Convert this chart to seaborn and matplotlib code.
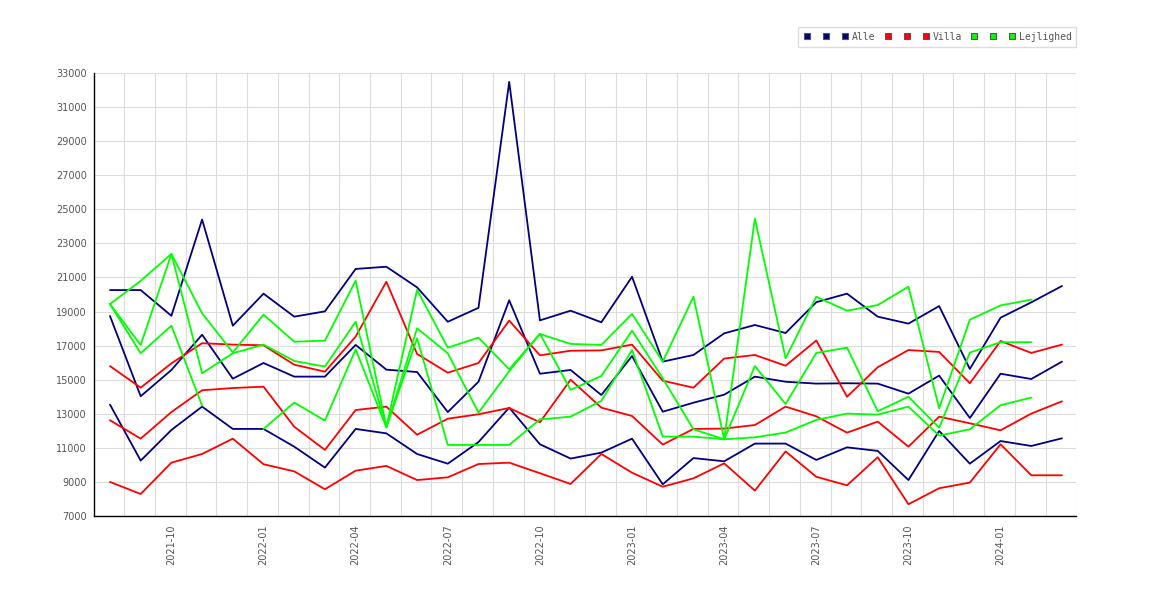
import seaborn as sns
import matplotlib.pyplot as plt
from matplotlib.lines import Line2D
import numpy as np
import pandas as pd

nan = np.nan

# months 2021-08 .. 2024-03
months = pd.date_range('2021-08-01', periods=32, freq='MS').strftime('%Y-%m').tolist()
tick_months = ['2021-10', '2022-01', '2022-04', '2022-07', '2022-10', '2023-01',
               '2023-04', '2023-07', '2023-10', '2024-01']

# Alle
alle_hi = [20260, 20260, 18750, 24400, 18170, 20050, 18700, 19010, 21500, 21630, 20420,
           18400, 19220, 32480, 18480, 19050, 18370, 21040, 16060, 16450, 17720, 18210,
           17740, 19550, 20050, 18700, 18290, 19320, 15630, 18640, 19540, 20500]
alle_mid = [18740, 14030, 15570, 17640, 15060, 15980, 15180, 15180, 17040, 15590, 15450,
            13100, 14880, 19660, 15350, 15570, 14100, 16390, 13120, 13650, 14120, 15180,
            14880, 14770, 14790, 14770, 14180, 15240, 12750, 15350, 15040, 16060]
alle_lo = [13540, 10250, 12050, 13420, 12110, 12110, 11070, 9840, 12110, 11850, 10640,
           10070, 11340, 13360, 11210, 10370, 10720, 11540, 8860, 10400, 10210, 11250,
           11250, 10290, 11030, 10820, 9110, 11990, 10070, 11400, 11110, 11560]

# Villa
villa_hi = [15800, 14530, 15960, 17140, 17060, 17020, 15880, 15470, 17530, 20750, 16510,
            15410, 15980, 18470, 16430, 16700, 16720, 17060, 14940, 14530, 16240, 16450,
            15820, 17300, 14000, 15730, 16740, 16630, 14790, 17270, 16570, 17060]
villa_mid = [12620, 11540, 13100, 14380, 14510, 14590, 12240, 10880, 13220, 13420, 11770,
             12710, 12970, 13340, 12500, 15000, 13360, 12870, 11190, 12110, 12130, 12340,
             13420, 12850, 11890, 12540, 11070, 12830, 12440, 12030, 13010, 13730]
villa_lo = [9000, 8290, 10130, 10640, 11540, 10040, 9620, 8570, 9660, 9940, 9110,
            9270, 10050, 10130, 9510, 8880, 10640, 9540, 8720, 9210, 10090, 8490,
            10790, 9300, 8800, 10450, 7690, 8630, 8960, 11210, 9390, 9390]

# Lejlighed
lejl_hi = [19440, 20800, 22380, 18900, 16600, 18820, 17230, 17290, 20810, 12240, 20270,
           16880, 17470, 15610, 17680, 17100, 17040, 18860, 16060, 19870, 11500, 24450,
           16260, 19870, 19050, 19380, 20460, 13320, 18520, 19360, 19700, nan]
lejl_mid = [19440, 17040, 22380, 15380, 16550, 17060, 16100, 15770, 18400, 12200, 18020,
            16550, 13070, 15500, 17700, 14400, 15220, 17880, 15080, 12090, 11500, 15800,
            13570, 16570, 16880, 13150, 14000, 12180, 16590, 17200, 17200, nan]
lejl_lo = [19440, 16550, 18170, 13480, nan, 12110, 13660, 12600, 16780, 12200, 17430,
           11170, 11170, 11170, 12670, 12830, 13760, 16740, 11660, 11660, 11500, 11620,
           11900, 12640, 13010, 12950, 13420, 11720, 12090, 13500, 13950, nan]

groups = [('Alle', '#000080', [alle_hi, alle_mid, alle_lo]),
          ('Villa', '#ff0000', [villa_hi, villa_mid, villa_lo]),
          ('Lejlighed', '#00ff00', [lejl_hi, lejl_mid, lejl_lo])]

sns.set_style('white')
plt.rcParams['font.family'] = 'DejaVu Sans'

fig = plt.figure(figsize=(11.7, 6), dpi=100)
ax = fig.add_axes([94 / 1170, 84 / 600, (1076.3 - 94) / 1170, (516 - 73) / 600])

x = np.arange(len(months))
for name, color, series in groups:
    for vals in series:
        df = pd.DataFrame({'x': x, 'y': vals})
        # break the line where a month is missing
        df['seg'] = df['y'].isna().cumsum()
        df = df.dropna()
        for _, part in df.groupby('seg'):
            sns.lineplot(data=part, x='x', y='y', color=color, linewidth=1.3, ax=ax)

ax.set_xlim(-0.52, 31.466)
ax.set_ylim(7000, 33000)
ax.set_yticks(range(7000, 33001, 2000))
ax.set_xticks([months.index(m) for m in tick_months])
ax.set_xticklabels(tick_months, rotation=90)
ax.set_xticks(x + 0.466, minor=True)
ax.set_xlabel('')
ax.set_ylabel('')
ax.tick_params(which='both', length=0, labelsize=7, labelcolor='#555555')
ax.tick_params(axis='y', pad=5)
ax.tick_params(axis='x', pad=6)
ax.grid(which='minor', axis='x', color='#dddddd', linewidth=0.8)
ax.grid(which='major', axis='y', color='#dddddd', linewidth=0.8)
ax.grid(which='major', axis='x', visible=False)
ax.set_axisbelow(True)
for s in ['top', 'right']:
    ax.spines[s].set_visible(False)
for s in ['left', 'bottom']:
    ax.spines[s].set_color('black')
    ax.spines[s].set_linewidth(1.0)

handles, labels = [], []
for name, color, series in groups:
    for k in range(3):
        handles.append(Line2D([], [], marker='s', linestyle='none', markersize=5,
                              markerfacecolor=color, markeredgecolor='#555555',
                              markeredgewidth=0.8))
        labels.append(name if k == 2 else '')
leg = fig.legend(handles, labels, ncol=9, loc='upper right',
                 bbox_to_anchor=(1076.3 / 1170, 1 - 27 / 600),
                 prop={'family': 'DejaVu Sans Mono', 'size': 7},
                 handlelength=0.8, handletextpad=0.3, columnspacing=0.85,
                 borderpad=0.5, borderaxespad=0, frameon=True, fancybox=False,
                 edgecolor='#dddddd', framealpha=1)
for t in leg.get_texts():
    t.set_color('#555555')

fig.savefig('out.png', dpi=100)
